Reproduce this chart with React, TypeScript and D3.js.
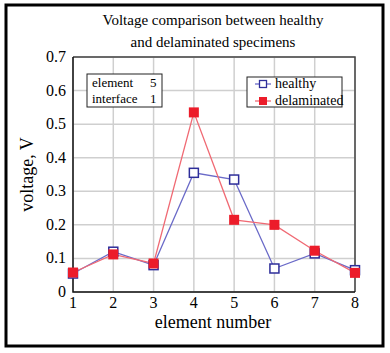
import React, { useRef, useEffect } from 'react';
import * as d3 from 'd3';

const elements = [1, 2, 3, 4, 5, 6, 7, 8];
const healthy = [0.055, 0.12, 0.08, 0.355, 0.335, 0.07, 0.115, 0.065];
const delaminated = [0.058, 0.112, 0.085, 0.535, 0.215, 0.2, 0.123, 0.057];
const yTicks = [0, 0.1, 0.2, 0.3, 0.4, 0.5, 0.6, 0.7];
const titleLines = ['Voltage comparison between healthy', 'and delaminated specimens'];
const infoRows = [['element', '5'], ['interface', '1']];
const legendItems = [
  { name: 'healthy', color: '#2e2e9a', line: '#6a6ac8', filled: false },
  { name: 'delaminated', color: '#ec1c2a', line: '#f06a74', filled: true },
];

const FONT = '"Liberation Serif", "Times New Roman", serif';

const App: React.FC = () => {
  const svgRef = useRef<SVGSVGElement | null>(null);

  useEffect(() => {
    if (!svgRef.current) return;
    const svg = d3.select(svgRef.current);
    svg.selectAll('*').remove();

    const margin = { top: 57, left: 73, right: 35, bottom: 61 };
    const width = 390;
    const height = 353;
    const innerWidth = width - margin.left - margin.right;
    const innerHeight = height - margin.top - margin.bottom;

    svg.append('rect').attr('width', width).attr('height', height).attr('fill', '#fff');
    // outer frame
    svg.append('rect')
      .attr('x', 6).attr('y', 5).attr('width', 377).attr('height', 341)
      .attr('fill', 'none').attr('stroke', '#000').attr('stroke-width', 3);

    // title
    svg.append('g').selectAll('text').data(titleLines).join('text')
      .attr('x', 213).attr('y', (_, i) => 25 + i * 22)
      .attr('text-anchor', 'middle').attr('font-family', FONT).attr('font-size', 15)
      .text(d => d);

    const x = d3.scaleLinear().domain([1, 8]).range([0, innerWidth]);
    const y = d3.scaleLinear().domain([0, 0.7]).range([innerHeight, 0]);

    const g = svg.append('g').attr('transform', `translate(${margin.left},${margin.top})`);

    // grid
    g.append('g').selectAll('line').data(elements).join('line')
      .attr('x1', d => x(d)).attr('x2', d => x(d)).attr('y1', 0).attr('y2', innerHeight)
      .attr('stroke', '#cfcfcf').attr('stroke-width', 1.5);
    g.append('g').selectAll('line').data(yTicks).join('line')
      .attr('y1', d => y(d)).attr('y2', d => y(d)).attr('x1', 0).attr('x2', innerWidth)
      .attr('stroke', '#cfcfcf').attr('stroke-width', 1.5);

    // frame of plot
    g.append('path')
      .attr('d', `M0,0H${innerWidth}V${innerHeight}`)
      .attr('fill', 'none').attr('stroke', '#444').attr('stroke-width', 1.5);
    g.append('path')
      .attr('d', `M0,0V${innerHeight}H${innerWidth}`)
      .attr('fill', 'none').attr('stroke', '#111').attr('stroke-width', 1.5);

    // tick labels
    g.append('g').selectAll('text').data(yTicks).join('text')
      .attr('x', -7).attr('y', d => y(d) + 5)
      .attr('text-anchor', 'end').attr('font-family', FONT).attr('font-size', 16)
      .text(d => (d === 0 ? '0' : d3.format('.1f')(d)));
    g.append('g').selectAll('text').data(elements).join('text')
      .attr('x', d => x(d)).attr('y', innerHeight + 16)
      .attr('text-anchor', 'middle').attr('font-family', FONT).attr('font-size', 16)
      .text(d => d);

    // axis titles
    svg.append('text')
      .attr('x', 213).attr('y', 328)
      .attr('text-anchor', 'middle').attr('font-family', FONT).attr('font-size', 18)
      .text('element number');
    svg.append('text')
      .attr('transform', `translate(33,${margin.top + innerHeight / 2}) rotate(-90)`)
      .attr('text-anchor', 'middle').attr('font-family', FONT).attr('font-size', 18)
      .text('voltage, V');

    // series
    const series = [
      { values: healthy, ...legendItems[0] },
      { values: delaminated, ...legendItems[1] },
    ];
    const line = d3.line<number>()
      .x((_, i) => x(elements[i]))
      .y(d => y(d));
    series.forEach(s => {
      g.append('path').datum(s.values)
        .attr('fill', 'none').attr('stroke', s.line).attr('stroke-width', 1.3)
        .attr('d', line);
    });
    series.forEach(s => {
      g.append('g').selectAll('rect').data(s.values).join('rect')
        .attr('x', (_, i) => x(elements[i]) - (s.filled ? 5 : 4.5))
        .attr('y', d => y(d) - (s.filled ? 5 : 4.5))
        .attr('width', s.filled ? 10 : 9).attr('height', s.filled ? 10 : 9)
        .attr('fill', s.filled ? s.color : '#fff')
        .attr('stroke', s.color).attr('stroke-width', s.filled ? 0 : 1.5);
    });

    // info box
    const info = svg.append('g');
    info.append('rect')
      .attr('x', 87).attr('y', 74).attr('width', 75).attr('height', 33)
      .attr('fill', '#fff').attr('stroke', '#222').attr('stroke-width', 1);
    infoRows.forEach((r, i) => {
      info.append('text').attr('x', 92).attr('y', 87 + i * 16)
        .attr('font-family', FONT).attr('font-size', 13).text(r[0]);
      info.append('text').attr('x', 150).attr('y', 87 + i * 16)
        .attr('font-family', FONT).attr('font-size', 13).text(r[1]);
    });

    // legend
    const leg = svg.append('g');
    leg.append('rect')
      .attr('x', 247).attr('y', 77).attr('width', 95).attr('height', 30)
      .attr('fill', '#fff').attr('stroke', '#222').attr('stroke-width', 1);
    legendItems.forEach((it, i) => {
      const cy = 84 + i * 17;
      leg.append('line').attr('x1', 255).attr('x2', 271).attr('y1', cy).attr('y2', cy)
        .attr('stroke', it.line).attr('stroke-width', 1.3);
      leg.append('rect')
        .attr('x', it.filled ? 259 : 259.5).attr('y', cy - (it.filled ? 4 : 3.5))
        .attr('width', it.filled ? 8 : 7).attr('height', it.filled ? 8 : 7)
        .attr('fill', it.filled ? it.color : '#fff')
        .attr('stroke', it.color).attr('stroke-width', it.filled ? 0 : 1.3);
      leg.append('text').attr('x', 275).attr('y', cy + 4)
        .attr('font-family', FONT).attr('font-size', 14).text(it.name);
    });
  }, []);

  return (
    <svg
      ref={svgRef}
      width={390}
      height={353}
      style={{ position: 'absolute', left: 0, top: 0, display: 'block' }}
    />
  );
};

export default App;
